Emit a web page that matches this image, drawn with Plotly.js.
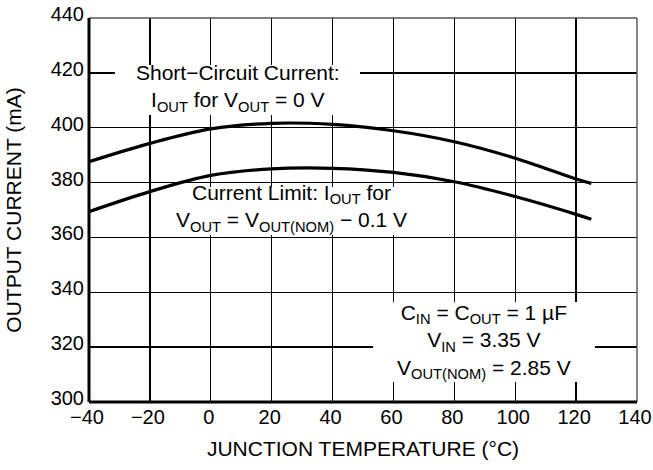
<!DOCTYPE html>
<html><head><meta charset="utf-8">
<script src="https://cdn.plot.ly/plotly-3.0.1.min.js"></script>
<style>html,body{margin:0;padding:0;background:#fff}#c{width:653px;height:470px}</style>
</head><body><div id="c"></div>
<script>
const temps = [-40, -20, 0, 20, 40, 60, 80, 100, 120, 125];
const shortCircuit = [387.6, 394.3, 399.6, 401.6, 401.2, 398.9, 394.9, 388.9, 381.3, 379.7];
const currentLimit = [369.4, 376.7, 382.6, 385.0, 385.2, 383.7, 380.3, 374.9, 368.4, 366.6];
const xTicks = [-40, -20, 0, 20, 40, 60, 80, 100, 120, 140];
const xTickText = ['\u221240', '\u221220', '0', '20', '40', '60', '80', '100', '120', '140'];
const yTicks = [300, 320, 340, 360, 380, 400, 420, 440];

const F = 'Liberation Sans, Arial, sans-serif';
const FS = 21;
const TFS = 20;
const line = {color: '#000', width: 3.2, shape: 'spline', smoothing: 1};
const traces = [
  {x: temps, y: shortCircuit, mode: 'lines', line: line, hoverinfo: 'skip'},
  {x: temps, y: currentLimit, mode: 'lines', line: line, hoverinfo: 'skip'}
];
const box = (x0, x1, y0, y1) => ({type: 'rect', xref: 'x', yref: 'y', x0, x1, y0, y1,
  fillcolor: '#fff', line: {width: 0}, layer: 'between'});
const layout = {
  width: 653, height: 470,
  margin: {l: 89, r: 16, t: 18, b: 68, autoexpand: false},
  showlegend: false,
  paper_bgcolor: '#fff', plot_bgcolor: '#fff',
  font: {family: F, size: FS, color: '#000'},
  xaxis: {
    range: [-40, 140], tickvals: xTicks, ticktext: xTickText,
    showgrid: true, gridcolor: '#000', gridwidth: 1.4,
    zeroline: false, showline: false, ticks: '',
    ticklabeloverflow: 'allow', ticklabelstandoff: 1, ticklabelshift: -2, automargin: false,
    tickfont: {family: F, size: TFS},
    title: {text: 'JUNCTION TEMPERATURE (\u00B0C)', font: {family: F, size: FS}, standoff: 14}
  },
  yaxis: {
    range: [300, 440], tickvals: yTicks,
    showgrid: true, gridcolor: '#000', gridwidth: 1.4,
    zeroline: false, showline: false, ticks: '',
    ticklabelstandoff: 4, ticklabelshift: -4, automargin: false,
    tickfont: {family: F, size: TFS},
    title: {text: 'OUTPUT CURRENT (mA)', font: {family: F, size: FS}, standoff: 23}
  },
  shapes: [
    box(-31.5, 49.0, 404.6, 422.9),
    box(-16.7, 68.7, 360.9, 378.4),
    box(53.3, 126.2, 307.3, 336.5),
    {type: 'line', xref: 'paper', yref: 'paper', x0: 1, x1: 1, y0: 0, y1: 1, line: {color: '#555', width: 1.4}},
    {type: 'line', xref: 'paper', yref: 'paper', x0: 0, x1: 1, y0: 1, y1: 1, line: {color: '#555', width: 1.4}},
    {type: 'line', xref: 'paper', yref: 'paper', x0: 0, x1: 0, y0: 0, y1: 1, line: {color: '#000', width: 3}},
    {type: 'line', xref: 'paper', yref: 'paper', x0: 0, x1: 1, y0: 0, y1: 0, line: {color: '#000', width: 3}}
  ],
  annotations: [
    {x: 9.1, y: 414.5, xref: 'x', yref: 'y', showarrow: false,
     text: 'Short\u2212Circuit Current:<br>I<sub>OUT</sub> for V<sub>OUT</sub> = 0 V',
     font: {family: F, size: FS}},
    {x: 26.4, y: 370.9, xref: 'x', yref: 'y', showarrow: false,
     text: 'Current Limit: I<sub>OUT</sub> for<br>V<sub>OUT</sub> = V<sub>OUT(NOM)</sub> \u2212 0.1 V',
     font: {family: F, size: FS}},
    {x: 89.8, y: 322.0, xref: 'x', yref: 'y', showarrow: false,
     text: 'C<sub>IN</sub> = C<sub>OUT</sub> = 1 \u00B5F<br>V<sub>IN</sub> = 3.35 V<br>V<sub>OUT(NOM)</sub> = 2.85 V',
     font: {family: F, size: FS}}
  ]
};
Plotly.newPlot('c', traces, layout, {displayModeBar: false, staticPlot: true});
</script></body></html>
